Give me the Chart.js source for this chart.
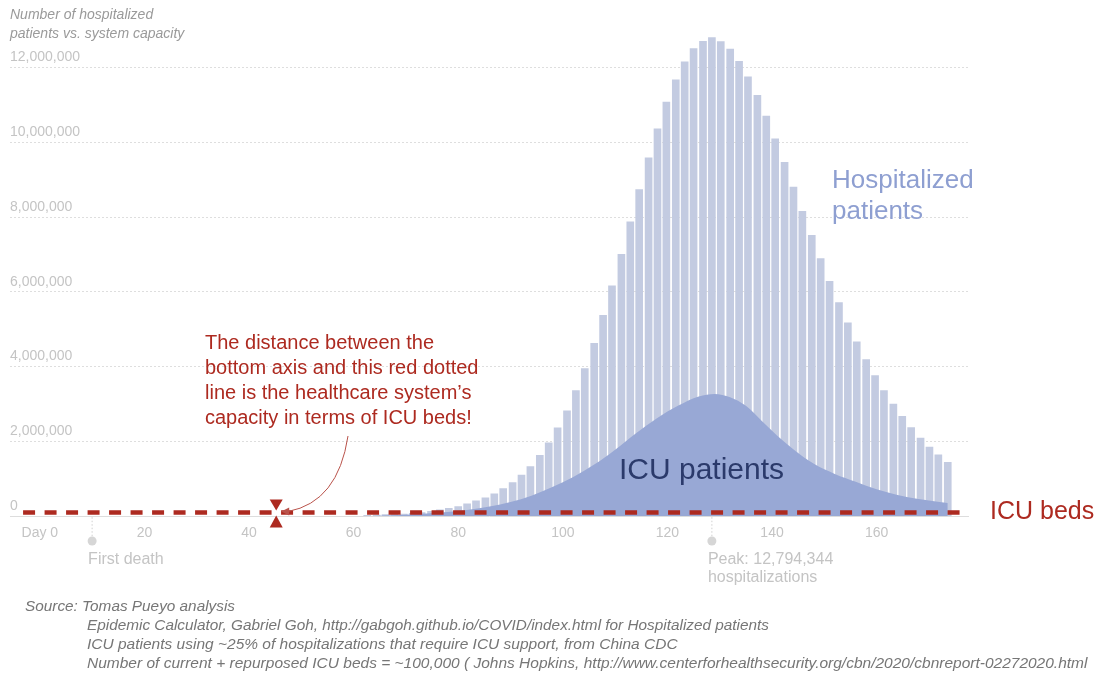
<!DOCTYPE html>
<html>
<head>
<meta charset="utf-8">
<script src="https://cdn.jsdelivr.net/npm/chart.js@4.4.1/dist/chart.umd.min.js"></script>
<style>
  html, body { margin: 0; padding: 0; background: #ffffff; }
  #wrap { position: relative; width: 1097px; height: 673px; }
</style>
</head>
<body>
<div id="wrap"><canvas id="grafico" width="1097" height="673"></canvas></div>
<script>
// Hospitalizaciones (barras), en millones
const barDays = [62.6, 64.4, 66.1, 67.8, 69.6, 71.3, 73.0, 74.8, 76.5, 78.2,
  80.0, 81.7, 83.4, 85.2, 86.9, 88.6, 90.4, 92.1, 93.8, 95.6,
  97.3, 99.0, 100.8, 102.5, 104.2, 106.0, 107.7, 109.4, 111.2, 112.9,
  114.6, 116.4, 118.1, 119.8, 121.6, 123.3, 125.0, 126.8, 128.5, 130.2,
  132.0, 133.7, 135.4, 137.2, 138.9, 140.6, 142.4, 144.1, 145.8, 147.6,
  149.3, 151.0, 152.8, 154.5, 156.2, 158.0, 159.7, 161.4, 163.2, 164.9,
  166.6, 168.4, 170.1, 171.8, 173.6];
const hospitalizedM = [0.02, 0.03, 0.04, 0.05, 0.06, 0.08, 0.10, 0.13, 0.17, 0.21,
  0.26, 0.33, 0.41, 0.49, 0.60, 0.74, 0.90, 1.10, 1.33, 1.63,
  1.96, 2.36, 2.82, 3.36, 3.95, 4.62, 5.37, 6.16, 7.00, 7.87,
  8.73, 9.58, 10.36, 11.07, 11.67, 12.15, 12.50, 12.70, 12.794344, 12.69,
  12.49, 12.16, 11.75, 11.25, 10.70, 10.09, 9.46, 8.80, 8.15, 7.51,
  6.89, 6.28, 5.71, 5.17, 4.66, 4.19, 3.76, 3.36, 3.00, 2.67,
  2.37, 2.09, 1.85, 1.64, 1.44];

// Pacientes UCI (area), en millones
const icuDays = [62, 66, 70, 74, 78, 82, 86, 90, 94, 98, 102, 106, 110, 114, 118,
  122, 126, 129, 132, 135, 138, 141, 144, 148, 152, 156, 160, 164, 168, 172, 173.6];
const icuM = [0.0, 0.02, 0.04, 0.07, 0.11, 0.17, 0.26, 0.38, 0.55, 0.78, 1.05, 1.38, 1.78, 2.22, 2.62,
  2.95, 3.20, 3.27, 3.18, 2.95, 2.55, 2.15, 1.80, 1.40, 1.13, 0.92, 0.72, 0.57, 0.46, 0.38, 0.35];

// Camas UCI (linea roja discontinua)
const bedsDays = [-3.2, 176.9];
const bedsValue = 100000;

const yTicks = [0, 2000000, 4000000, 6000000, 8000000, 10000000, 12000000];
const xTicks = [0, 20, 40, 60, 80, 100, 120, 140, 160];

const firstDeathDay = 10;
const peakDay = 128.5;
const arrowDay = 45.2;

const fuente = '"Helvetica Neue", "Liberation Sans", Arial, sans-serif';
const grisTick = '#c4c4c4';
const rojo = '#ad2a20';

const anotaciones = {
  id: 'anotaciones',
  afterDraw(chart) {
    const { ctx, scales: { x, y } } = chart;
    const y0 = y.getPixelForValue(0);
    const yBeds = y.getPixelForValue(bedsValue);

    ctx.save();
    ctx.textBaseline = 'middle';
    ctx.textAlign = 'left';

    // titulo del eje
    ctx.fillStyle = '#9a9a9a';
    ctx.font = 'italic 14px ' + fuente;
    ctx.fillText('Number of hospitalized', 10, 15);
    ctx.fillText('patients vs. system capacity', 10, 34);

    // marcadores bajo el eje
    const marcas = [
      { day: firstDeathDay, lines: ['First death'], dx: -4 },
      { day: peakDay, lines: ['Peak: 12,794,344', 'hospitalizations'], dx: -4 }
    ];
    marcas.forEach(m => {
      const px = x.getPixelForValue(m.day);
      ctx.strokeStyle = '#d0d0d0';
      ctx.lineWidth = 1;
      ctx.setLineDash([1.5, 2]);
      ctx.beginPath();
      ctx.moveTo(px, y0 + 1);
      ctx.lineTo(px, 537);
      ctx.stroke();
      ctx.setLineDash([]);
      ctx.fillStyle = '#d6d6d6';
      ctx.beginPath();
      ctx.arc(px, 541, 4.5, 0, Math.PI * 2);
      ctx.fill();
      ctx.fillStyle = grisTick;
      ctx.font = '16px ' + fuente;
      m.lines.forEach((t, i) => ctx.fillText(t, px + m.dx, 560 + i * 18));
    });

    // etiquetas de series
    ctx.fillStyle = '#8e9fd1';
    ctx.font = '26px ' + fuente;
    ctx.fillText('Hospitalized', 832, 181);
    ctx.fillText('patients', 832, 212);

    ctx.fillStyle = '#2b3a6b';
    ctx.font = '30px ' + fuente;
    ctx.fillText('ICU patients', 619, 471);

    ctx.fillStyle = rojo;
    ctx.font = '25px ' + fuente;
    ctx.fillText('ICU beds', 990, yBeds);

    // texto explicativo
    ctx.font = '20px ' + fuente;
    const nota = [
      'The distance between the',
      'bottom axis and this red dotted',
      'line is the healthcare system\u2019s',
      'capacity in terms of ICU beds!'
    ];
    nota.forEach((t, i) => ctx.fillText(t, 205, 343 + i * 25));

    // flecha curva
    const ax = x.getPixelForValue(arrowDay);
    ctx.strokeStyle = '#b9524a';
    ctx.lineWidth = 1;
    ctx.beginPath();
    ctx.moveTo(348, 436);
    ctx.quadraticCurveTo(338, 502, ax + 12, yBeds - 1);
    ctx.stroke();
    ctx.fillStyle = '#b9524a';
    ctx.beginPath();
    ctx.moveTo(ax + 5, yBeds - 1);
    ctx.lineTo(ax + 13, yBeds - 5);
    ctx.lineTo(ax + 13, yBeds + 3);
    ctx.closePath();
    ctx.fill();

    // triangulos
    ctx.fillStyle = rojo;
    ctx.beginPath();
    ctx.moveTo(ax - 6.5, yBeds - 13);
    ctx.lineTo(ax + 6.5, yBeds - 13);
    ctx.lineTo(ax, yBeds - 2);
    ctx.closePath();
    ctx.fill();
    ctx.beginPath();
    ctx.moveTo(ax - 6.5, yBeds + 15);
    ctx.lineTo(ax + 6.5, yBeds + 15);
    ctx.lineTo(ax, yBeds + 3);
    ctx.closePath();
    ctx.fill();

    // fuentes
    ctx.fillStyle = '#767676';
    ctx.font = 'italic 15.5px ' + fuente;
    ctx.fillText('Source: Tomas Pueyo analysis', 25, 607, 210);
    ctx.fillText('Epidemic Calculator, Gabriel Goh, http://gabgoh.github.io/COVID/index.html for Hospitalized patients', 87, 626, 682);
    ctx.fillText('ICU patients using ~25% of hospitalizations that require ICU support, from China CDC', 87, 645, 640);
    ctx.fillText('Number of current + repurposed ICU beds = ~100,000 ( Johns Hopkins, http://www.centerforhealthsecurity.org/cbn/2020/cbnreport-02272020.html', 87, 664, 1005);
    ctx.restore();
  }
};

new Chart(document.getElementById('grafico'), {
  type: 'bar',
  data: {
    datasets: [
      {
        type: 'line',
        label: 'ICU beds',
        data: bedsDays.map(d => ({ x: d, y: bedsValue })),
        borderColor: rojo,
        borderWidth: 4.5,
        borderDash: [12, 9.5],
        pointRadius: 0,
        fill: false,
        order: 0
      },
      {
        type: 'line',
        label: 'ICU patients',
        data: icuDays.map((d, i) => ({ x: d, y: icuM[i] * 1e6 })),
        borderWidth: 0,
        borderColor: 'rgba(0,0,0,0)',
        backgroundColor: '#98a8d5',
        fill: 'origin',
        cubicInterpolationMode: 'monotone',
        pointRadius: 0,
        order: 1
      },
      {
        type: 'bar',
        label: 'Hospitalized patients',
        data: barDays.map((d, i) => ({ x: d, y: hospitalizedM[i] * 1e6 })),
        backgroundColor: '#c3cbe1',
        barThickness: 7,
        order: 2
      }
    ]
  },
  options: {
    responsive: false,
    animation: false,
    layout: { padding: { left: 10, right: 129, top: 30, bottom: 123 } },
    plugins: {
      legend: { display: false },
      tooltip: { enabled: false }
    },
    scales: {
      x: {
        type: 'linear',
        offset: false,
        min: -5.7,
        max: 177.47,
        afterBuildTicks: s => { s.ticks = xTicks.map(v => ({ value: v })); },
        ticks: {
          padding: 8.5,
          color: grisTick,
          font: { family: fuente, size: 14 },
          callback: v => (v === 0 ? 'Day 0' : String(v))
        },
        grid: { display: false, drawTicks: false },
        border: { display: true, color: '#dddddd', width: 1 }
      },
      y: {
        min: 0,
        max: 13000000,
        afterBuildTicks: s => { s.ticks = yTicks.map(v => ({ value: v })); },
        ticks: {
          mirror: true,
          padding: 0,
          labelOffset: -10,
          color: grisTick,
          font: { family: fuente, size: 14 },
          callback: v => v.toLocaleString('en-US')
        },
        grid: { color: '#dedede', lineWidth: 1, drawTicks: false },
        border: { display: false, dash: [2, 2] }
      }
    }
  },
  plugins: [anotaciones]
});
</script>
</body>
</html>
